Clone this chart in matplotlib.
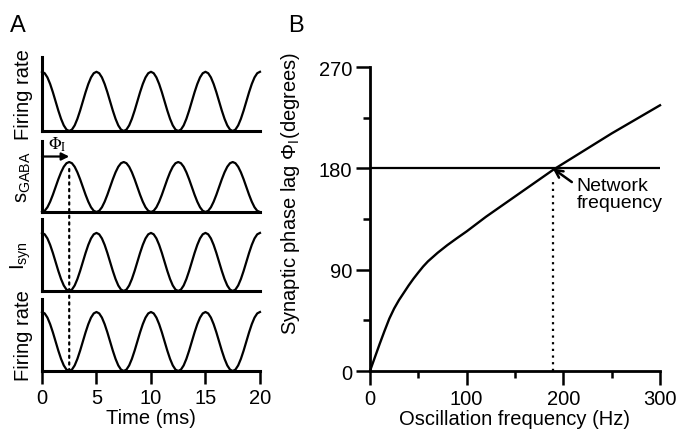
import matplotlib
matplotlib.use("Agg")
import matplotlib.pyplot as plt
import numpy as np
from matplotlib.patches import ConnectionPatch
from matplotlib.ticker import MultipleLocator

dt_ms = 0.25
n_cycles = 4
rate_cycle = [1.000, 0.976, 0.905, 0.794, 0.655, 0.500, 0.345, 0.206, 0.095, 0.024,
              0.000, 0.024, 0.095, 0.206, 0.345, 0.500, 0.655, 0.794, 0.905, 0.976]
sgaba_cycle = [0.000, 0.024, 0.095, 0.206, 0.345, 0.500, 0.655, 0.794, 0.905, 0.976,
               1.000, 0.976, 0.905, 0.794, 0.655, 0.500, 0.345, 0.206, 0.095, 0.024]
isyn_cycle = rate_cycle
row_labels = ["Firing rate", r"s$_{\mathrm{GABA}}$", r"I$_{\mathrm{syn}}$", "Firing rate"]
time_ticks = [0, 5, 10, 15, 20]
lag_ms = 2.5

# Panel B: synaptic phase lag vs oscillation frequency
freq_hz = [0, 5, 10, 15, 20, 25, 30, 35, 40, 45, 50, 55, 60, 70, 80, 90, 100,
           120, 140, 160, 180, 190, 220, 250, 276, 300]
phase_deg = [0, 12, 24, 35.5, 46.5, 55.5, 63, 69.5, 76, 82, 87.5, 92.8, 97.4,
             105, 111.8, 118, 124, 137, 149, 161, 173, 179, 195, 211, 224, 236]
net_freq = 189
half_cycle = 180

plt.rcParams["font.family"] = "Liberation Sans"
plt.rcParams["font.size"] = 14.5
plt.rcParams["mathtext.fontset"] = "custom"
plt.rcParams["mathtext.rm"] = "Liberation Sans"
plt.rcParams["mathtext.it"] = "Liberation Sans:italic"
plt.rcParams["mathtext.bf"] = "Liberation Sans:bold"

def full_trace(cycle):
    return np.append(np.tile(cycle, n_cycles), cycle[0])

traces = [full_trace(rate_cycle), full_trace(sgaba_cycle),
          full_trace(isyn_cycle), full_trace(rate_cycle)]
t = np.arange(len(traces[0])) * dt_ms

fig = plt.figure(figsize=(6.77, 4.39), dpi=100)

# ---- panel A ----
rows = [(0.6993, 0.1686, 1.25), (0.5148, 0.1617, 1.42),
        (0.3349, 0.1640, 1.24), (0.1526, 0.1640, 1.22)]
axA = []
for i, (b, h, top) in enumerate(rows):
    ax = fig.add_axes([0.062, b, 0.322, h])
    ax.plot(t, traces[i], color="black", lw=1.6, clip_on=False)
    ax.set_xlim(0, 20)
    ax.set_ylim(0, top)
    for s in ["top", "right"]:
        ax.spines[s].set_visible(False)
    for s in ["left", "bottom"]:
        ax.spines[s].set_linewidth(2.2)
    ax.set_yticks([])
    ax.set_ylabel(row_labels[i], fontsize=14.5)
    ax.yaxis.set_label_coords(-0.041, 0.5)
    if i < 3:
        ax.set_xticks([])
    else:
        ax.set_xticks(time_ticks)
        ax.tick_params(axis="x", length=9, width=1.8, pad=3, labelsize=14.5)
        ax.set_xlabel("Time (ms)", labelpad=1)
    axA.append(ax)

# phase-lag arrow in the s_GABA row
axA[1].annotate("", xy=(lag_ms, 1.11), xytext=(0, 1.11),
                arrowprops=dict(arrowstyle="-|>", lw=1.6, color="black",
                                mutation_scale=11, shrinkA=0, shrinkB=0),
                annotation_clip=False)
axA[1].text(0.55, 1.19, r"$\Phi_{\mathrm{I}}$", math_fontfamily="stix",
            fontsize=12, ha="left", va="bottom")

con = ConnectionPatch(xyA=(lag_ms, 0.86), coordsA=axA[1].transData,
                      xyB=(lag_ms, 0), coordsB=axA[3].transData,
                      linestyle=(0, (1, 2)), lw=1.6, color="black")
fig.add_artist(con)

# ---- panel B ----
axB = fig.add_axes([0.5465, 0.1526, 0.4284, 0.6925])
axB.plot(freq_hz, phase_deg, color="black", lw=1.7, clip_on=False)
axB.plot([0, 300], [half_cycle, half_cycle], color="black", lw=1.6)
axB.plot([net_freq, net_freq], [0, 171], color="black", lw=1.6,
         linestyle=(0, (1, 2)))
axB.set_xlim(0, 300)
axB.set_ylim(0, 270)
for s in ["top", "right"]:
    axB.spines[s].set_visible(False)
for s in ["left", "bottom"]:
    axB.spines[s].set_linewidth(2.0)
axB.set_xticks([0, 100, 200, 300])
axB.set_yticks([0, 90, 180, 270])
axB.xaxis.set_minor_locator(MultipleLocator(50))
axB.yaxis.set_minor_locator(MultipleLocator(45))
axB.tick_params(which="major", length=10, width=1.8, pad=3, labelsize=14.5)
axB.tick_params(which="minor", length=5, width=1.8)
axB.set_xlabel("Oscillation frequency (Hz)", labelpad=1)
axB.set_ylabel(r"Synaptic phase lag $\mathrm{\Phi}_{\mathrm{I}}$(degrees)")
axB.yaxis.set_label_coords(-0.234, 0.589)

axB.annotate("Network\nfrequency", xy=(net_freq, half_cycle), xytext=(214, 172),
             ha="left", va="top", fontsize=14, linespacing=0.95,
             arrowprops=dict(arrowstyle="->", lw=1.8, color="black",
                             mutation_scale=14, shrinkA=2, shrinkB=0,
                             relpos=(0, 0.75)))

fig.text(0.015, 0.965, "A", fontsize=17, ha="left", va="top")
fig.text(0.425, 0.965, "B", fontsize=17, ha="left", va="top")

fig.savefig("out.png", dpi=100)
